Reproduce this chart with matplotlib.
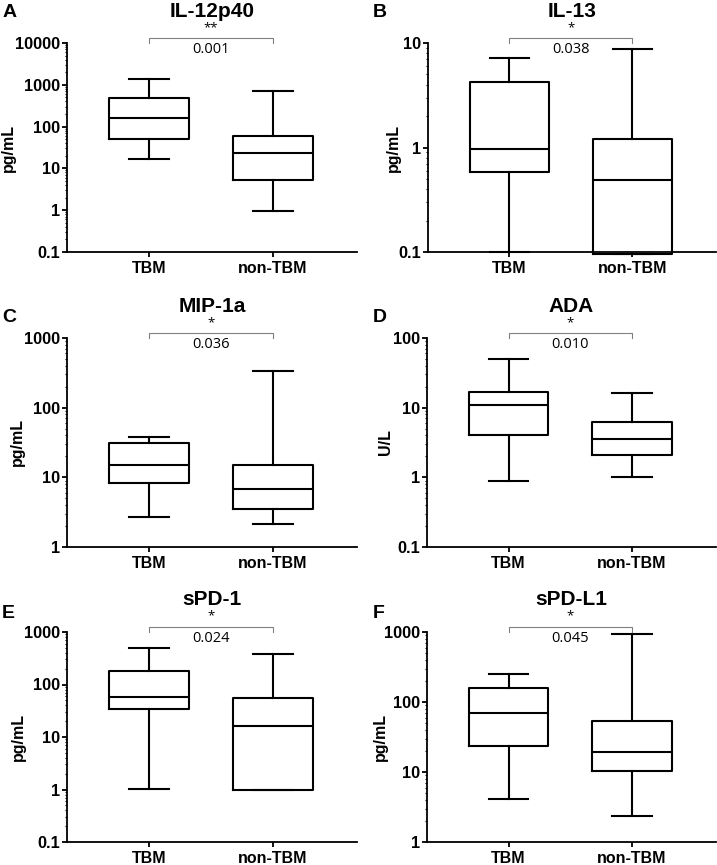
# Box plots of CSF markers, TBM vs non-TBM

import numpy as np
import matplotlib.pyplot as plt
from matplotlib.ticker import LogLocator, NullFormatter

plt.rcParams['font.family'] = ['Liberation Sans', 'DejaVu Sans']

groups = ['TBM', 'non-TBM']
titles = ['IL-12p40', 'IL-13', 'MIP-1a', 'ADA', 'sPD-1', 'sPD-L1']
letters = ['A', 'B', 'C', 'D', 'E', 'F']
units = ['pg/mL', 'pg/mL', 'pg/mL', 'U/L', 'pg/mL', 'pg/mL']
stars = ['**', '*', '*', '*', '*', '*']
pvalues = ['0.001', '0.038', '0.036', '0.010', '0.024', '0.045']

# whisker low, Q1, median, Q3, whisker high
il12_tbm = [16.7, 50, 158, 479, 1370]
il12_non = [0.98, 5.4, 23.8, 60, 692]
il13_tbm = [0.1, 0.58, 0.97, 4.2, 7.2]
il13_non = [0.096, 0.096, 0.49, 1.2, 8.8]
mip_tbm = [2.7, 8.3, 15.2, 31, 37.9]
mip_non = [2.16, 3.55, 6.8, 14.9, 332]
ada_tbm = [0.885, 4.0, 10.8, 16.6, 49.4]
ada_non = [1.0, 2.07, 3.55, 6.2, 16.2]
spd1_tbm = [1.02, 34.7, 57.8, 178, 495]
spd1_non = [1.0, 1.0, 16.4, 55.3, 381]
spdl1_tbm = [4.1, 23.8, 70.5, 160, 251]
spdl1_non = [2.35, 10.3, 19.1, 53, 926]

panel_data = [(il12_tbm, il12_non), (il13_tbm, il13_non), (mip_tbm, mip_non),
              (ada_tbm, ada_non), (spd1_tbm, spd1_non), (spdl1_tbm, spdl1_non)]
ylims = [(0.1, 10000), (0.1, 10), (1, 1000), (0.1, 100), (0.1, 1000), (1, 1000)]

W, H = 717, 865
fig = plt.figure(figsize=(W / 100, H / 100), dpi=100)

# axes boxes in pixels: left, top, right, bottom
boxes = [(67, 43, 357, 252), (428, 43, 716, 252),
         (67, 338, 357, 547), (427, 338, 716, 547),
         (67, 632, 357, 842), (427, 632, 716, 842)]
letter_pos = [(3, 12.5), (373, 12.5), (2, 317), (373, 317), (2, 613), (373, 613)]
ylabel_x = [-0.176, -0.094, -0.145, -0.118, -0.143, -0.135]

for i in range(6):
    l, t, r, b = boxes[i]
    ax = fig.add_axes([l / W, 1 - b / H, (r - l) / W, (b - t) / H])
    stats = []
    for g, vals in zip(groups, panel_data[i]):
        lo, q1, med, q3, hi = vals
        stats.append(dict(whislo=lo, q1=q1, med=med, q3=q3, whishi=hi, label=g))
    arts = ax.bxp(stats, positions=[0, 1], widths=0.645, showfliers=False,
                  boxprops=dict(linewidth=1.5, color='black'),
                  medianprops=dict(linewidth=1.5, color='black'),
                  whiskerprops=dict(linewidth=1.5, color='black'),
                  capprops=dict(linewidth=1.5, color='black'),
                  capwidths=0.32)
    for k in arts:
        for a in arts[k]:
            a.set_clip_on(False)
    ax.set_yscale('log')
    ax.set_ylim(*ylims[i])
    ax.set_xlim(-0.66, 1.68)
    lo_e = int(np.log10(ylims[i][0]))
    hi_e = int(np.log10(ylims[i][1]))
    ticks = [10.0 ** e for e in range(lo_e, hi_e + 1)]
    ax.set_yticks(ticks)
    ax.set_yticklabels([('%g' % v) for v in ticks], fontweight='bold', fontsize=11.8)
    ax.yaxis.set_minor_locator(LogLocator(base=10, subs=np.arange(2, 10)))
    ax.yaxis.set_minor_formatter(NullFormatter())
    ax.set_xticks([0, 1])
    ax.set_xticklabels(groups, fontweight='bold', fontsize=11.5)
    ax.spines['top'].set_visible(False)
    ax.spines['right'].set_visible(False)
    ax.spines['left'].set_linewidth(1.3)
    ax.spines['bottom'].set_linewidth(1.3)
    ax.tick_params(axis='both', which='major', length=3.6, width=1.3)
    ax.tick_params(axis='x', which='major', pad=3)
    ax.tick_params(axis='y', which='major', pad=1)
    ax.tick_params(axis='y', which='minor', length=1.8, width=0.8)
    ax.set_ylabel(units[i], fontweight='bold', fontsize=11.5)
    ax.yaxis.set_label_coords(ylabel_x[i], 0.5)
    ax.text(0.5, 1.153, titles[i], transform=ax.transAxes, ha='center', va='center',
            fontweight='bold', fontsize=15)
    # significance bracket
    tr = ax.get_xaxis_transform()
    ax.plot([0, 0, 1, 1], [1.0, 1.024, 1.024, 1.0], color='#808080', lw=0.8,
            transform=tr, clip_on=False)
    ax.text(0.5, 1.075, stars[i], transform=tr, ha='center', va='center',
            fontsize=9.5, family=['Open Sans', 'DejaVu Sans'])
    ax.text(0.5, 0.97, pvalues[i], transform=tr, ha='center', va='center',
            fontsize=10.5, family=['Open Sans', 'DejaVu Sans'])
    fig.text(letter_pos[i][0] / W, 1 - letter_pos[i][1] / H, letters[i],
             fontweight='bold', fontsize=14, ha='left', va='center')

plt.savefig('out.png', dpi=100)
